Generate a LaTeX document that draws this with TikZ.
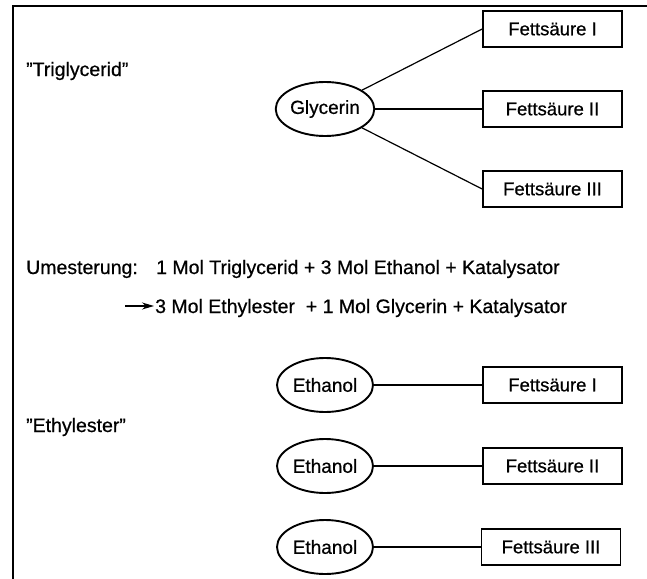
\documentclass[tikz,border=0pt]{standalone}
\usepackage{fontspec}
\setmainfont{Liberation Sans}
\newfontface\medfont{Liberation Sans}[FakeBold=0.6,Ligatures=TeX]
\usetikzlibrary{shapes.geometric,arrows.meta}
\begin{document}
\begin{tikzpicture}[x=1pt,y=-1pt,
  txt/.style={font=\medfont\fontsize{19.5}{22}\selectfont, inner sep=0pt, anchor=base west},
  acid/.style={draw, line width=1.7pt, minimum width=139pt, minimum height=36pt, inner sep=0pt, font=\medfont\fontsize{18.5}{22}\selectfont},
  alc/.style={draw, ellipse, line width=1.9pt, minimum width=96pt, minimum height=54pt, inner sep=0pt, font=\medfont\fontsize{19}{22}\selectfont},
  link/.style={line width=1.2pt},
  frame/.style={line width=2pt}]
\useasboundingbox (0,0) rectangle (647,578);
% frame (top and left edges only)
\coordinate (ftl) at (13,6);
\coordinate (ftr) at (648,6);
\coordinate (fbl) at (13,579);
\draw[frame] (ftr) -- (ftl) -- (fbl);

% Triglycerid
\node[txt] (tri) at (26,76) {''Triglycerid''};
\node[alc] (gly) at (325,109) {Glycerin};
\node[acid] (fa1) at (552.5,29) {Fettsäure I};
\node[acid] (fa2) at (552.5,109) {Fettsäure II};
\node[acid] (fa3) at (552.5,189) {Fettsäure III};
\draw[link] (gly) -- (fa1.west);
\draw[link] (gly) -- (fa2.west);
\draw[link] (gly) -- (fa3.west);

% reaction
\node[txt] (um) at (26,274) {Umesterung:};
\node[txt] (eq1) at (156,274) {1 Mol Triglycerid + 3 Mol Ethanol + Katalysator};
\node[txt] (eq2) at (155,313) {3 Mol Ethylester\ \ + 1 Mol Glycerin + Katalysator};
\coordinate (as) at (125,306);
\draw[line width=1.3pt, -{Stealth[length=12pt,width=7pt]}] (as) -- ([xshift=-1pt]eq2.west |- as);

% Ethylester
\node[txt] (ety) at (26,432) {''Ethylester''};
\node[alc] (e1) at (325,385) {Ethanol};
\node[alc] (e2) at (325,466) {Ethanol};
\node[alc] (e3) at (325,547) {Ethanol};
\node[acid] (fb1) at (552.5,385) {Fettsäure I};
\node[acid] (fb2) at (552.5,466) {Fettsäure II};
\node[acid] (fb3) at (551,547) {Fettsäure III};
\draw[link] (e1) -- (fb1);
\draw[link] (e2) -- (fb2);
\draw[link] (e3) -- (fb3);
\end{tikzpicture}
\end{document}
